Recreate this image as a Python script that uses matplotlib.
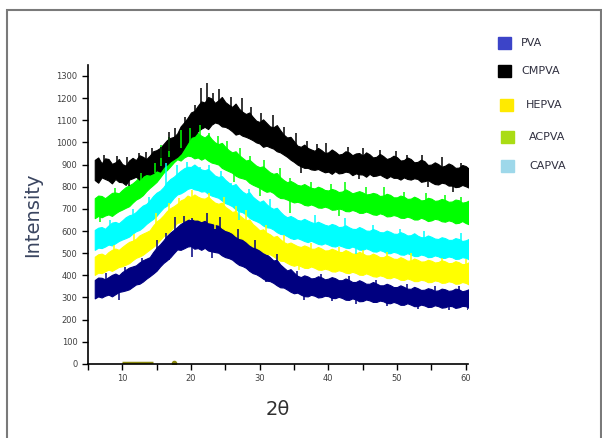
import numpy as np
import matplotlib.pyplot as plt
from matplotlib.patches import Rectangle
from matplotlib.ticker import MultipleLocator

two_theta = np.arange(6, 60.75, 0.5)

# upper / lower edges of each noisy band (counts), one row per 5 deg
cmpva_hi = [921, 932, 905, 928, 925, 903, 910, 925, 902, 895,
            918, 930, 920, 942, 935, 925, 940, 960, 965, 975,
            992, 1010, 1020, 1025, 1040, 1072, 1090, 1110, 1135, 1142,
            1165, 1185, 1180, 1205, 1198, 1178, 1190, 1205, 1182, 1170,
            1160, 1175, 1152, 1138, 1128, 1135, 1115, 1098, 1092, 1104,
            1088, 1072, 1068, 1078, 1055, 1035, 1022, 1025, 1005, 985,
            980, 990, 975, 968, 962, 975, 965, 952, 955, 968,
            958, 945, 948, 960, 955, 942, 950, 952, 940, 955,
            946, 932, 935, 948, 938, 925, 930, 940, 933, 918,
            920, 932, 925, 910, 912, 922, 915, 898, 900, 910,
            902, 890, 895, 905, 898, 885, 886, 898, 893, 880]
cmpva_lo = [830, 818, 842, 835, 828, 815, 835, 822, 820, 808,
            832, 838, 845, 832, 850, 858, 855, 862, 875, 868,
            890, 900, 915, 925, 935, 950, 975, 1000, 1025, 1030,
            1050, 1062, 1070, 1060, 1080, 1090, 1085, 1072, 1070, 1062,
            1050, 1035, 1040, 1030, 1025, 1018, 1010, 1000, 995, 980,
            985, 978, 972, 960, 955, 945, 935, 922, 912, 900,
            892, 885, 885, 878, 876, 880, 872, 865, 868, 858,
            870, 860, 862, 868, 865, 852, 860, 856, 855, 845,
            858, 848, 850, 855, 846, 838, 848, 840, 840, 832,
            842, 835, 832, 838, 835, 822, 825, 830, 820, 812,
            810, 818, 815, 805, 805, 798, 800, 808, 802, 795]

green_hi = [748, 760, 758, 748, 760, 772, 774, 770, 785, 798,
            806, 815, 828, 845, 858, 870, 880, 905, 918, 930,
            948, 972, 988, 1000, 1008, 1025, 1034, 1028, 1032, 1045,
            1042, 1030, 1022, 1035, 1015, 1000, 992, 998, 980, 965,
            955, 960, 943, 930, 918, 922, 908, 895, 888, 892,
            878, 865, 858, 862, 843, 830, 820, 826, 818, 808,
            805, 812, 803, 795, 792, 800, 794, 785, 783, 790,
            785, 776, 778, 788, 780, 770, 775, 780, 774, 765,
            767, 772, 768, 758, 760, 768, 763, 752, 752, 760,
            755, 745, 746, 755, 748, 738, 740, 750, 746, 736,
            738, 745, 740, 732, 733, 742, 739, 728, 731, 738]
green_lo = [658, 668, 662, 670, 675, 668, 680, 690, 697, 705,
            712, 728, 742, 750, 762, 780, 795, 808, 822, 842,
            863, 875, 892, 910, 924, 918, 932, 940, 938, 928,
            932, 922, 930, 918, 909, 905, 900, 885, 877, 870,
            863, 850, 842, 838, 833, 818, 809, 802, 795, 785,
            777, 780, 772, 758, 749, 748, 742, 735, 729, 732,
            727, 718, 715, 720, 714, 706, 705, 710, 705, 696,
            697, 702, 698, 690, 689, 695, 690, 682, 682, 688,
            682, 675, 673, 680, 675, 666, 667, 672, 668, 660,
            659, 665, 660, 652, 652, 660, 654, 645, 648, 655,
            652, 644, 642, 648, 644, 635, 637, 645, 636, 630]

capva_hi = [605, 615, 618, 610, 625, 638, 641, 635, 648, 662,
            671, 675, 686, 702, 715, 722, 738, 758, 773, 782,
            798, 820, 835, 845, 859, 872, 883, 890, 889, 900,
            888, 878, 874, 880, 865, 850, 844, 848, 831, 818,
            805, 812, 793, 778, 768, 775, 755, 742, 731, 738,
            721, 708, 700, 705, 687, 672, 662, 668, 660, 650,
            647, 655, 647, 640, 635, 642, 635, 628, 624, 632,
            627, 618, 619, 626, 617, 610, 609, 618, 611, 602,
            601, 609, 603, 595, 594, 602, 596, 588, 587, 595,
            589, 580, 581, 590, 579, 572, 572, 580, 574, 566,
            564, 572, 568, 560, 560, 568, 564, 555, 558, 565]
capva_lo = [515, 525, 523, 530, 539, 535, 545, 555, 562, 568,
            575, 588, 599, 605, 617, 632, 644, 655, 669, 688,
            705, 715, 730, 750, 765, 770, 779, 790, 795, 788,
            785, 778, 780, 768, 760, 755, 750, 738, 726, 720,
            712, 698, 689, 685, 675, 660, 651, 645, 637, 625,
            617, 615, 607, 595, 587, 585, 577, 568, 564, 568,
            562, 555, 550, 556, 549, 542, 539, 545, 539, 532,
            530, 536, 531, 525, 523, 530, 524, 516, 515, 522,
            516, 508, 507, 514, 509, 500, 500, 506, 502, 494,
            493, 500, 494, 487, 487, 494, 490, 482, 483, 490,
            486, 478, 479, 485, 482, 474, 475, 482, 479, 472]

hepva_hi = [484, 495, 498, 490, 505, 515, 521, 515, 528, 540,
            551, 556, 565, 580, 588, 595, 603, 625, 643, 655,
            671, 690, 703, 712, 723, 738, 745, 760, 753, 765,
            755, 748, 746, 755, 740, 728, 723, 728, 709, 698,
            686, 690, 673, 660, 648, 652, 631, 618, 603, 608,
            593, 585, 573, 578, 563, 550, 543, 548, 540, 532,
            528, 535, 529, 520, 520, 528, 521, 512, 513, 520,
            514, 506, 505, 514, 507, 498, 498, 506, 499, 490,
            490, 498, 491, 482, 482, 490, 483, 475, 474, 482,
            475, 466, 467, 476, 470, 462, 463, 470, 466, 458,
            460, 468, 463, 455, 456, 464, 459, 450, 452, 460]
hepva_lo = [402, 412, 410, 418, 426, 420, 429, 438, 441, 448,
            455, 468, 479, 485, 493, 505, 517, 528, 542, 560,
            577, 588, 602, 620, 637, 640, 647, 655, 660, 652,
            652, 645, 652, 640, 637, 632, 629, 615, 605, 600,
            592, 578, 569, 565, 554, 540, 530, 525, 517, 505,
            497, 495, 486, 475, 466, 465, 456, 448, 443, 448,
            441, 434, 433, 440, 434, 426, 425, 430, 426, 418,
            417, 423, 419, 412, 410, 416, 411, 403, 402, 409,
            403, 396, 394, 400, 396, 388, 387, 393, 388, 380,
            379, 386, 381, 374, 374, 380, 377, 369, 370, 377,
            374, 366, 367, 373, 370, 362, 363, 370, 366, 358]

pva_hi = [379, 390, 389, 382, 392, 402, 408, 400, 415, 425,
          435, 440, 445, 458, 468, 475, 482, 505, 525, 540,
          558, 578, 593, 605, 618, 632, 641, 655, 648, 660,
          655, 645, 648, 658, 645, 635, 633, 640, 619, 608,
          595, 600, 581, 568, 558, 562, 541, 528, 513, 518,
          495, 482, 467, 470, 449, 435, 422, 428, 412, 398,
          392, 400, 395, 386, 388, 396, 391, 382, 385, 392,
          387, 378, 378, 386, 379, 370, 370, 378, 371, 362,
          362, 370, 363, 355, 355, 362, 356, 347, 347, 355,
          348, 340, 339, 348, 342, 334, 335, 342, 338, 330,
          332, 340, 337, 330, 332, 340, 337, 328, 332, 338]
pva_lo = [296, 305, 300, 308, 313, 305, 315, 325, 328, 332,
          337, 348, 359, 362, 372, 385, 396, 408, 421, 440,
          456, 468, 482, 500, 517, 515, 522, 530, 532, 520,
          523, 515, 524, 512, 508, 505, 502, 490, 482, 478,
          471, 458, 447, 442, 434, 420, 410, 405, 396, 385,
          376, 374, 366, 355, 346, 345, 336, 326, 319, 322,
          313, 306, 305, 312, 308, 300, 302, 308, 306, 298,
          297, 303, 298, 290, 289, 296, 291, 283, 284, 291,
          287, 280, 280, 286, 283, 275, 274, 280, 275, 267,
          267, 274, 268, 261, 261, 268, 264, 257, 258, 265,
          261, 254, 256, 262, 261, 253, 256, 262, 261, 252]

# isolated spikes: (2theta, intensity)
cmpva_spk = [(7.3, 945), (9.2, 940), (10.7, 936), (12.4, 952), (13.5, 958), (14.3, 975), (15.7, 981),
             (16.8, 1049), (17.7, 1064), (19.1, 1116), (20.6, 1170), (21.4, 1244), (22.4, 1267),
             (23.2, 1225), (24.1, 1240), (25.8, 1207), (27.4, 1199), (28.7, 1160), (30.2, 1131),
             (32.0, 1124), (33.6, 1071), (35.3, 1041), (36.9, 1004), (38.3, 992), (39.7, 996),
             (42.8, 981), (45.1, 975), (47.5, 966), (49.8, 960), (51.5, 943), (53.7, 945), (56.5, 936),
             (59.3, 906), (58.2, 778), (11.0, 805), (36.0, 860), (44.5, 835), (54.5, 800)]
green_spk = [(6.8, 640), (9.0, 792), (12.8, 860), (14.7, 905), (15.7, 989), (16.8, 1026), (18.6, 1055),
             (19.9, 1064), (21.3, 1079), (22.7, 1041), (23.9, 1030), (25.2, 1004), (27.1, 975),
             (28.6, 940), (30.7, 921), (32.9, 885), (34.4, 838), (37.5, 822), (40.4, 810), (42.5, 823),
             (45.5, 800), (48.1, 800), (51.0, 778), (54.2, 770), (57.0, 762), (59.3, 755), (34.4, 680),
             (26.3, 820), (30.0, 760), (41.5, 668)]
capva_spk = [(8.2, 650), (11.5, 700), (13.9, 755), (16.3, 906), (17.9, 898), (19.4, 910), (21.3, 891),
             (22.7, 898), (24.4, 870), (25.8, 816), (28.5, 790), (31.5, 745), (35.0, 560), (38.0, 672),
             (42.5, 657), (46.5, 625), (50.5, 610), (54.0, 598), (59.3, 590), (27.0, 650), (44.0, 495)]
hepva_spk = [(8.8, 535), (11.7, 585), (14.9, 680), (16.8, 725), (18.2, 750), (20.2, 785), (22.7, 770),
             (24.8, 755), (26.5, 712), (28.0, 696), (31.0, 625), (33.5, 580), (37.5, 548), (41.5, 530),
             (45.0, 516), (48.5, 505), (52.0, 500), (56.5, 480), (60.0, 475), (23.5, 610), (35.8, 425)]
pva_spk = [(7.6, 410), (10.4, 438), (12.9, 480), (15.1, 560), (16.3, 590), (17.7, 665), (19.0, 670),
           (20.2, 660), (22.4, 680), (24.3, 665), (26.8, 610), (29.4, 560), (32.5, 495), (35.5, 418),
           (39.0, 408), (43.0, 398), (47.0, 378), (51.5, 360), (55.5, 352), (59.0, 352),
           (16.8, 470), (20.2, 485), (23.0, 480), (36.4, 289), (40.5, 285), (44.0, 270), (48.5, 262),
           (53.0, 248), (57.5, 245), (60.4, 244), (9.5, 290), (31.0, 370)]

# ACPVA sits on the baseline
acpva_x = [10.0, 14.5]
acpva_y = [4, 4]
acpva_dot = (17.5, 6)

legend_names = ["PVA", "CMPVA", "HEPVA", "ACPVA", "CAPVA"]
legend_colors = ["#3c44c8", "#000000", "#ffea00", "#aadc14", "#9ed8ea"]

fig = plt.figure(figsize=(6.02, 4.38), dpi=100)
ax = fig.add_axes([0.146, 0.169, 0.631, 0.683])

bands = [
    (pva_lo, pva_hi, pva_spk, "#000080"),
    (hepva_lo, hepva_hi, hepva_spk, "#ffff00"),
    (capva_lo, capva_hi, capva_spk, "#00ffff"),
    (green_lo, green_hi, green_spk, "#00ff00"),
    (cmpva_lo, cmpva_hi, cmpva_spk, "#000000"),
]
for lo, hi, spk, col in bands:
    ax.fill_between(two_theta, lo, hi, color=col, lw=0.8, edgecolor=col)
    mid = (np.array(lo) + np.array(hi)) / 2
    for sx, sy in spk:
        base = np.interp(sx, two_theta, mid)
        ax.vlines(sx, min(base, sy), max(base, sy), color=col, lw=1.1)

ax.plot(acpva_x, acpva_y, color="#8c8a10", lw=2.5, solid_capstyle="butt")
ax.plot(*acpva_dot, "o", color="#8c8a10", ms=3)

ax.set_xlim(5, 60.3)
ax.set_ylim(0, 1350)
ax.set_xticks(range(10, 61, 10))
ax.set_xticks(range(5, 61, 5), minor=True)
ax.set_yticks(range(0, 1301, 100))
ax.tick_params(axis="both", which="both", direction="out", length=4, width=1, labelsize=6,
               labelcolor="#404040")
ax.tick_params(axis="y", which="minor", length=0)
for s in ["top", "right"]:
    ax.spines[s].set_visible(False)
for s in ["left", "bottom"]:
    ax.spines[s].set_linewidth(1.2)

ax.set_ylabel("Intensity", fontsize=14, color="#3a4560", labelpad=10)
ax.set_xlabel("2θ", fontsize=14, color="#303030", labelpad=12)

# hand-placed legend to the right of the plot
leg_y = [43, 71, 105, 137, 166]
leg_box_x = [498, 498, 500, 501, 501]
leg_txt_x = [521, 521, 526, 529, 529]
for name, col, y, bx, tx in zip(legend_names, legend_colors, leg_y, leg_box_x, leg_txt_x):
    fig.patches.append(Rectangle((bx / 602, 1 - (y + 6) / 438), 13 / 602, 12 / 438,
                                 transform=fig.transFigure, color=col))
    fig.text(tx / 602, 1 - y / 438, name, fontsize=8, va="center", ha="left", color="#303040")

# grey frame around the whole figure
fig.patches.append(Rectangle((7 / 602, -0.02), 594 / 602, 1 - 10 / 438 + 0.02,
                             transform=fig.transFigure, fill=False, ec="#7a7a7a", lw=1.5))

fig.savefig("out.png", dpi=100)
